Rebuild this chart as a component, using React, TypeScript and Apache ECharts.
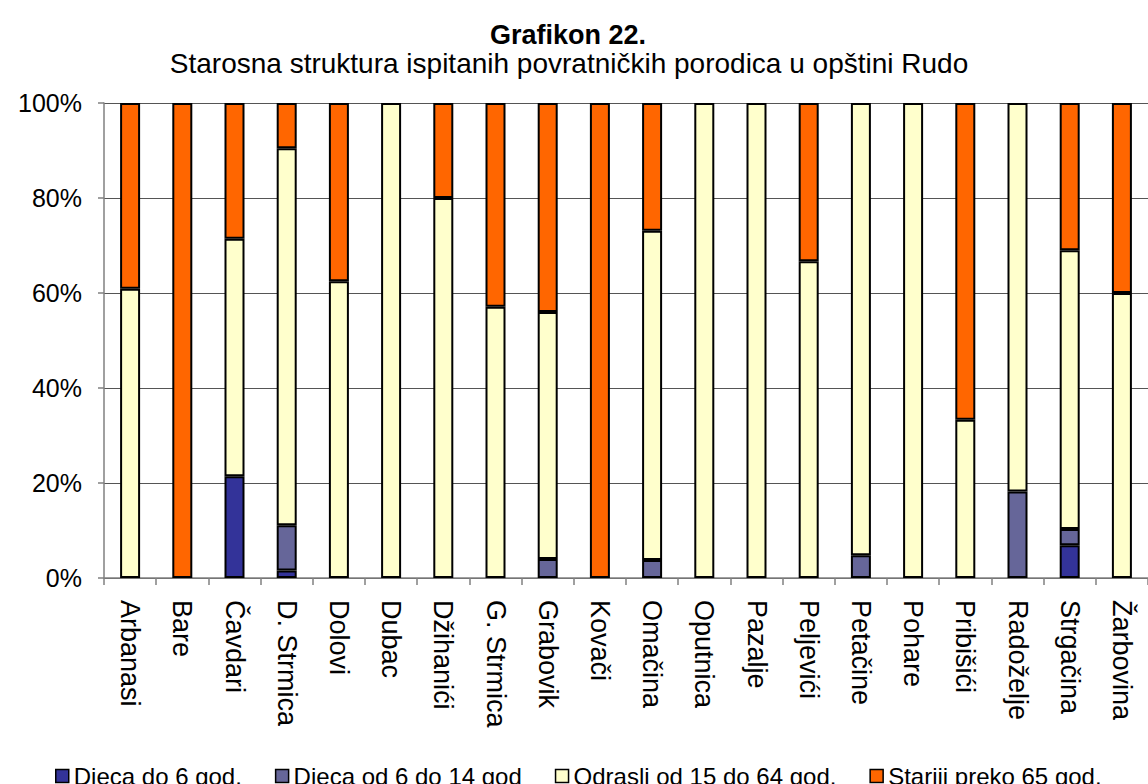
import React, { useEffect, useRef } from "react";
import * as echarts from "echarts";

const categories = [
  "Arbanasi", "Bare", "Čavdari", "D. Strmica", "Dolovi", "Dubac", "Džihanići",
  "G. Strmica", "Grabovik", "Kovači", "Omačina", "Oputnica", "Pazalje", "Peljevići",
  "Petačine", "Pohare", "Pribišići", "Radoželje", "Strgačina", "Žarbovina",
];

const seriesNames = [
  "Djeca do 6 god.",
  "Djeca od 6 do 14 god",
  "Odrasli od 15 do 64 god.",
  "Stariji preko 65 god.",
];

const djecaDo6 = [0, 0, 21.4, 1.6, 0, 0, 0, 0, 0, 0, 0, 0, 0, 0, 0, 0, 0, 0, 6.9, 0];
const djeca6do14 = [0, 0, 0, 9.5, 0, 0, 0, 0, 4.0, 0, 3.8, 0, 0, 0, 4.8, 0, 0, 18.2, 3.4, 0];
const odrasli = [60.9, 0, 50.0, 79.4, 62.5, 100, 80.0, 57.1, 52.0, 0, 69.3, 100, 100, 66.7, 95.2, 100, 33.3, 81.8, 58.7, 60.0];
const stariji = [39.1, 100, 28.6, 9.5, 37.5, 0, 20.0, 42.9, 44.0, 100, 26.9, 0, 0, 33.3, 0, 0, 66.7, 0, 31.0, 40.0];

const yTicks = [0, 20, 40, 60, 80, 100];

const colors = ["#333399", "#666699", "#FFFFCC", "#FF6600"];

const FONT = "'Liberation Sans', Arial, sans-serif";

export default function App() {
  const ref = useRef<HTMLDivElement>(null);

  useEffect(() => {
    if (!ref.current) return;
    const chart = echarts.init(ref.current, undefined, { renderer: "svg" });
    const values = [djecaDo6, djeca6do14, odrasli, stariji];
    chart.setOption({
      animation: false,
      backgroundColor: "#ffffff",
      textStyle: { fontFamily: FONT, color: "#000" },
      title: [
        {
          text: "Grafikon 22.",
          left: 563,
          top: 16,
          textAlign: "center",
          textStyle: { fontFamily: FONT, fontSize: 27, fontWeight: "bold", color: "#000" },
        },
        {
          text: "Starosna struktura ispitanih povratničkih porodica u opštini Rudo",
          left: 564,
          top: 44,
          textAlign: "center",
          textStyle: { fontFamily: FONT, fontSize: 28, fontWeight: "normal", color: "#000" },
        },
      ],
      legend: {
        data: seriesNames,
        left: 50,
        top: 759,
        itemWidth: 13,
        itemHeight: 13,
        itemGap: 33,
        icon: "rect",
        itemStyle: { borderColor: "#000", borderWidth: 1.5 },
        textStyle: { fontFamily: FONT, fontSize: 24, color: "#000" },
      },
      grid: { left: 104, top: 103, width: 1064, height: 475, containLabel: false },
      xAxis: {
        type: "category",
        data: categories,
        boundaryGap: true,
        axisLine: { lineStyle: { color: "#808080", width: 1.5 } },
        axisTick: { show: true, length: 7, inside: false, alignWithLabel: false, lineStyle: { color: "#808080", width: 1.5 } },
        axisLabel: {
          rotate: -90,
          margin: 22,
          interval: 0,
          fontFamily: FONT,
          fontSize: 27,
          color: "#000",
        },
        splitLine: { show: false },
      },
      yAxis: {
        type: "value",
        min: yTicks[0],
        max: yTicks[yTicks.length - 1],
        interval: 20,
        axisLine: { show: true, lineStyle: { color: "#808080", width: 1.5 } },
        axisTick: { show: true, length: 6, lineStyle: { color: "#808080", width: 1.5 } },
        axisLabel: {
          formatter: "{value}%",
          margin: 22,
          fontFamily: FONT,
          fontSize: 25,
          color: "#000",
        },
        splitLine: { show: true, lineStyle: { color: "#555555", width: 1 } },
      },
      series: seriesNames.map((name, i) => ({
        name,
        type: "bar",
        stack: "total",
        barWidth: 20,
        data: values[i].map((v) => (v === 0 ? null : v)),
        itemStyle: { color: colors[i], borderColor: "#000", borderWidth: 2 },
        emphasis: { disabled: true },
      })),
    });
    return () => chart.dispose();
  }, []);

  return (
    <div
      ref={ref}
      style={{ position: "fixed", left: 0, top: 0, width: 1148, height: 784 }}
    />
  );
}
